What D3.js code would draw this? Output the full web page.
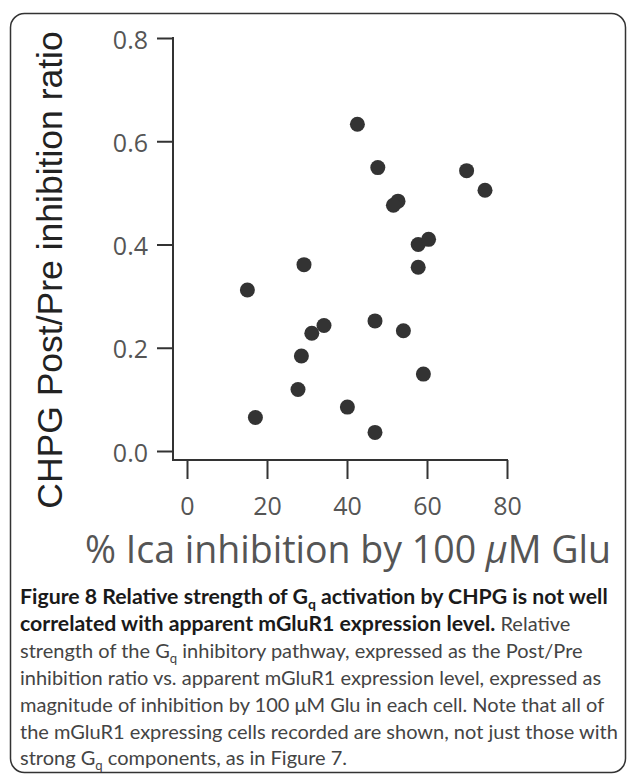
<!DOCTYPE html>
<html>
<head>
<meta charset="utf-8">
<script src="https://cdn.jsdelivr.net/npm/d3@7"></script>
<style>
  body { margin: 0; background: #fff; }
  svg { display: block; }
</style>
</head>
<body>
<svg width="628" height="774"></svg>
<script>
// % Ica inhibition by 100 uM Glu (x) vs CHPG Post/Pre inhibition ratio (y)
let inhibition = [42.6, 47.7, 52.75, 51.6, 69.9, 74.5, 57.8, 60.4, 57.8, 29.25, 15.1,
  47.0, 54.1, 34.25, 31.2, 28.6, 59.1, 27.75, 17.1, 40.1, 47.0];
let ratio = [0.633, 0.549, 0.484, 0.476, 0.543, 0.505, 0.400, 0.410, 0.356, 0.361, 0.312,
  0.252, 0.233, 0.243, 0.228, 0.184, 0.149, 0.119, 0.065, 0.085, 0.036];

let xTicks = [0, 20, 40, 60, 80];
let yTicks = [0.0, 0.2, 0.4, 0.6, 0.8];

let points = inhibition.map((d, i) => ({ x: d, y: ratio[i] }));

let svg = d3.select("svg");

// frame
svg.append("rect")
  .attr("x", 10.5).attr("y", 13.5)
  .attr("width", 615).attr("height", 759)
  .attr("rx", 14)
  .attr("fill", "none")
  .attr("stroke", "#333")
  .attr("stroke-width", 1.5);

let x = d3.scaleLinear().domain([0, 80]).range([187, 507]);
let y = d3.scaleLinear().domain([0, 0.8]).range([451, 38]);

let axisX0 = 173; // y axis sits left of x=0
let axisY0 = 460; // x axis sits below y=0

let tickFont = "'Open Sans', sans-serif";

let yAxis = svg.append("g")
  .attr("transform", `translate(${axisX0},0)`)
  .call(d3.axisLeft(y).tickValues(yTicks).tickSize(16).tickPadding(9)
    .tickFormat(d3.format(".1f")));
yAxis.select(".domain").remove();

let xAxis = svg.append("g")
  .attr("transform", `translate(0,${axisY0})`)
  .call(d3.axisBottom(x).tickValues(xTicks).tickSize(19).tickPadding(18));
xAxis.select(".domain").remove();

svg.selectAll(".tick line").attr("stroke", "#333").attr("stroke-width", 2);
svg.selectAll(".tick text")
  .attr("fill", "#555")
  .style("font-family", tickFont)
  .style("font-size", "25px");
yAxis.selectAll(".tick text").attr("dy", "0.4em");

// axis lines
svg.append("line")
  .attr("x1", axisX0).attr("x2", axisX0)
  .attr("y1", y(0.8) - 1).attr("y2", axisY0 + 1)
  .attr("stroke", "#333").attr("stroke-width", 2);
svg.append("line")
  .attr("x1", axisX0).attr("x2", x(80) + 1)
  .attr("y1", axisY0).attr("y2", axisY0)
  .attr("stroke", "#333").attr("stroke-width", 2);

// points
svg.append("g")
  .selectAll("circle")
  .data(points)
  .enter()
  .append("circle")
  .attr("cx", d => x(d.x))
  .attr("cy", d => y(d.y))
  .attr("r", 7.5)
  .attr("fill", "#333");

// axis titles
svg.append("text")
  .attr("transform", "translate(62,270) rotate(-90)")
  .attr("text-anchor", "middle")
  .attr("fill", "#222")
  .style("font-family", "'Liberation Sans', Arial, sans-serif")
  .style("font-size", "35.5px")
  .text("CHPG Post/Pre inhibition ratio");

let xt = svg.append("text")
  .attr("x", 348).attr("y", 563)
  .attr("text-anchor", "middle")
  .attr("fill", "#555")
  .style("font-family", tickFont)
  .style("font-size", "37.5px");
xt.append("tspan").text("% Ica inhibition by 100 ");
xt.append("tspan").style("font-style", "italic").text("μ");
xt.append("tspan").text("M Glu");

// caption
let caption = [
  [["b", "Figure 8 Relative strength of G"], ["bs", "q"], ["b", " activation by CHPG is not well"]],
  [["b", "correlated with apparent mGluR1 expression level."], ["r", " Relative"]],
  [["r", "strength of the G"], ["s", "q"], ["r", " inhibitory pathway, expressed as the Post/Pre"]],
  [["r", "inhibition ratio vs. apparent mGluR1 expression level, expressed as"]],
  [["r", "magnitude of inhibition by 100 μM Glu in each cell. Note that all of"]],
  [["r", "the mGluR1 expressing cells recorded are shown, not just those with"]],
  [["r", "strong G"], ["s", "q"], ["r", " components, as in Figure 7."]]
];

let capG = svg.append("g")
  .style("font-family", "Lato, sans-serif");

// measure one bold and one regular line to pick sizes that fill the box
function measure(str, weight, size) {
  let t = capG.append("text").attr("font-weight", weight)
    .style("font-size", size + "px").text(str);
  let w = t.node().getComputedTextLength();
  t.remove();
  return w;
}
let boldSize = 21 * 592 / measure("Figure 8 Relative strength of Gq activation by CHPG is not well", "bold", 21);
let regSize = 21 * 598 / measure("the mGluR1 expressing cells recorded are shown, not just those with", "normal", 21);

caption.forEach((line, i) => {
  let t = capG.append("text")
    .attr("x", 20)
    .attr("y", 604 + i * 26.9);
  let sub = false;
  line.forEach(([kind, str]) => {
    let sp = t.append("tspan").text(str);
    let size = kind[0] === "b" ? boldSize : regSize;
    if (kind[0] === "b") sp.attr("font-weight", "bold").attr("fill", "#1a1a1a");
    else sp.attr("fill", "#444");
    if (kind.indexOf("s") >= 0) {
      sp.attr("dy", 5).style("font-size", (size * 0.66) + "px");
      sub = true;
    } else {
      sp.style("font-size", size + "px");
      if (sub) { sp.attr("dy", -5); sub = false; }
    }
  });
});
</script>
</body>
</html>
